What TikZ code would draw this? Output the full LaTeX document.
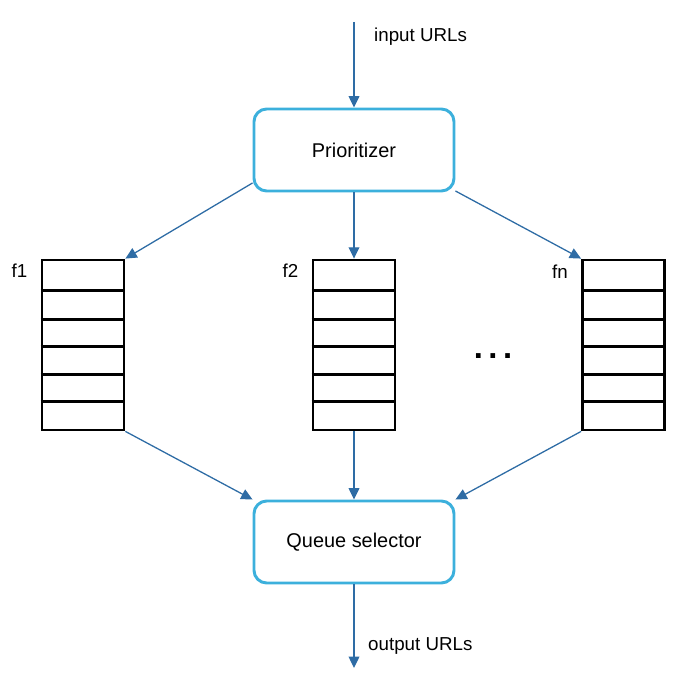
\documentclass[tikz,border=0pt]{standalone}
\usepackage{fontspec}
\setmainfont{Liberation Sans}
\usetikzlibrary{arrows.meta}
\usetikzlibrary{calc}
\usetikzlibrary{positioning}
\definecolor{arrowblue}{RGB}{46,108,165}
\definecolor{boxblue}{RGB}{60,176,220}

\begin{document}
\begin{tikzpicture}[x=0.03cm,y=-0.03cm,
  stage/.style={draw=boxblue,line width=2.5pt,rounded corners=0.38cm,minimum width=6cm,minimum height=2.46cm,inner sep=0pt,font=\fontsize{17}{20}\selectfont},
  queue/.style={draw,line width=2.4pt,minimum width=2.46cm,minimum height=5.1cm,inner sep=0pt},
  cell/.style={line width=2.3pt},
  flow/.style={draw=arrowblue,line width=1.1pt,-{Triangle[length=3.4mm,width=3.2mm]}},
  lbl/.style={font=\fontsize{16}{19}\selectfont,inner sep=0pt}]
\useasboundingbox (0,0) rectangle (679,682);

% Les deux etages
\node[stage] (prio) at (354,150) {Prioritizer};
\node[stage] (qsel) at (354,542) {Queue selector};

% Les files
\node[queue] (q1) at (83,345) {};
\node[queue] (q2) at (354,345) {};
\node[queue] (qn) at (623.5,345) {};
\foreach \q in {q1,q2,qn}{
  \foreach \d in {32,61,88,116,143}{
    \draw[cell] ($(\q.north west)+(0,\d)$) -- ($(\q.north east)+(0,\d)$);
  }
}
\node[lbl,anchor=east] (f1) at ($(q1.north west)+(-13,12)$) {f1};
\node[lbl,anchor=east] (f2) at ($(q2.north west)+(-13,12)$) {f2};
\node[lbl,anchor=east] (fn) at ($(qn.north west)+(-13,13)$) {fn};
\node[font=\fontsize{28}{30}\selectfont\bfseries,inner sep=0pt] (dots) at (493,356) {.\,.\,.};

% Entree
\coordinate (in) at (354,22);
\draw[flow] (in) -- (prio);
\node[lbl,anchor=west] (inlbl) at (374,37) {input URLs};

% Vers les files
\draw[flow] (prio.198) -- (q1.north east);
\draw[flow] (prio) -- (q2);
\draw[flow] (prio.-22) -- (qn.north west);

% Vers le selecteur
\draw[flow] (q1.south east) -- (qsel.north west);
\draw[flow] (q2) -- (qsel);
\draw[flow] (qn.south west) -- (qsel.north east);

% Sortie
\coordinate (out) at (354,668);
\draw[flow] (qsel) -- (out);
\node[lbl,anchor=west] (outlbl) at (368,646) {output URLs};
\end{tikzpicture}
\end{document}
